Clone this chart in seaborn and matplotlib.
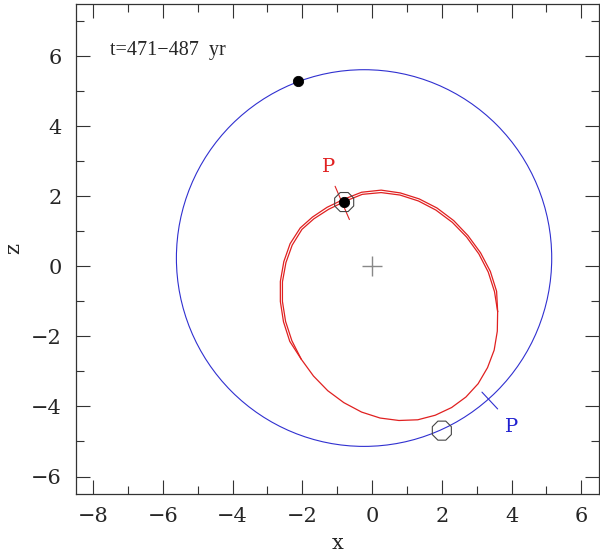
import numpy as np
import pandas as pd
import seaborn as sns
import matplotlib
matplotlib.use("Agg")
import matplotlib.pyplot as plt
from matplotlib.patches import Circle
from matplotlib.ticker import MultipleLocator

# blue orbit (circle)
blue_center = (-0.23, 0.24)
blue_radius = 5.38

# red orbit: main loop (read every ~10 degrees round the loop)
red_x = [3.60, 3.51, 3.33, 3.06, 2.71, 2.30, 1.83, 1.33, 0.80, 0.26,
         -0.28, -0.78, -1.25, -1.67, -2.01, -2.29, -2.47, -2.57, -2.57, -2.48,
         -2.30, -2.03, -1.68, -1.27, -0.81, -0.30, 0.23, 0.77, 1.31, 1.81,
         2.28, 2.69, 3.04, 3.31, 3.50, 3.59, 3.60]
red_z = [-1.29, -0.72, -0.16, 0.36, 0.84, 1.26, 1.61, 1.87, 2.04, 2.11,
         2.06, 1.86, 1.63, 1.36, 1.06, 0.61, 0.11, -0.44, -1.00, -1.57,
         -2.12, -2.65, -3.13, -3.55, -3.89, -4.16, -4.33, -4.40, -4.38, -4.25,
         -4.03, -3.73, -3.35, -2.89, -2.39, -1.85, -1.29]
# second pass over the top, slightly outside the first
red2_x = [3.60, 3.57, 3.39, 3.11, 2.75, 2.34, 1.86, 1.35, 0.81, 0.26,
          -0.30, -0.81, -1.29, -1.71, -2.06, -2.35, -2.53, -2.63, -2.63, -2.54,
          -2.36, -2.03]
red2_z = [-1.29, -0.71, -0.14, 0.39, 0.88, 1.31, 1.67, 1.93, 2.10, 2.18,
          2.12, 1.92, 1.69, 1.41, 1.10, 0.65, 0.14, -0.43, -1.00, -1.58,
          -2.14, -2.65]

# filled dots (current positions) and open octagons
dots_x = [-2.11, -0.80]
dots_z = [5.29, 1.84]
octs_x = [-0.80, 2.00]
octs_z = [1.84, -4.69]

# pericentre ticks and labels
red_p_x = [-1.06, -0.65]
red_p_z = [2.29, 1.34]
blue_p_x = [3.15, 3.60]
blue_p_z = [-3.59, -4.07]
red_label = (-1.26, 2.83)
blue_label = (4.0, -4.6)

sns.set_style("ticks")
plt.rcParams['font.family'] = ['DejaVu Serif']

fig = plt.figure(figsize=(6.0, 5.56), dpi=100)
ax = fig.add_axes([0.126, 0.1115, 0.872, 0.8815])

ax.add_patch(Circle(blue_center, blue_radius, fill=False, color="#3030d0", lw=0.8))

red = pd.DataFrame({"x": red_x, "z": red_z})
red2 = pd.DataFrame({"x": red2_x, "z": red2_z})
sns.lineplot(data=red, x="x", y="z", sort=False, estimator=None, color="#e02020", lw=0.9, ax=ax)
sns.lineplot(data=red2, x="x", y="z", sort=False, estimator=None, color="#e02020", lw=0.9, ax=ax)

ax.plot(red_p_x, red_p_z, color="#e02020", lw=0.8)
ax.plot(blue_p_x, blue_p_z, color="#3030d0", lw=0.8)

ax.plot([0], [0], marker="+", color="#888888", ms=14, mew=1.0)

ax.scatter(octs_x, octs_z, marker="8", s=220, facecolors="none", edgecolors="#444444", linewidths=0.8, zorder=4)
sns.scatterplot(x=dots_x, y=dots_z, color="black", s=55, edgecolor="black", ax=ax, zorder=5)

ax.text(red_label[0], red_label[1], "P", color="#e02020", fontsize=14, ha="center", va="center")
ax.text(blue_label[0], blue_label[1], "P", color="#2020d0", fontsize=14, ha="center", va="center")
ax.text(-7.5, 6.17, "t=471\u2212487  yr", fontsize=14.5, ha="left", va="center",
        family=["Liberation Serif", "DejaVu Serif"])

ax.set_xlim(-8.5, 6.5)
ax.set_ylim(-6.5, 7.5)
ax.xaxis.set_major_locator(MultipleLocator(2))
ax.xaxis.set_minor_locator(MultipleLocator(1))
ax.yaxis.set_major_locator(MultipleLocator(2))
ax.yaxis.set_minor_locator(MultipleLocator(1))
ax.tick_params(which="both", direction="in", top=True, right=True, labelsize=15, width=0.8, color="#333333")
ax.tick_params(which="major", length=10)
ax.tick_params(which="minor", length=5.5)
ax.tick_params(axis="x", which="major", pad=9)
ax.tick_params(axis="y", which="major", pad=10)
for s in ax.spines.values():
    s.set_linewidth(0.9)
    s.set_color("#333333")
ax.set_xlabel("x", fontsize=15, labelpad=6)
ax.set_ylabel("z", fontsize=15)
ax.yaxis.set_label_coords(-0.10, 0.5)

fig.savefig("out.png", dpi=100)
